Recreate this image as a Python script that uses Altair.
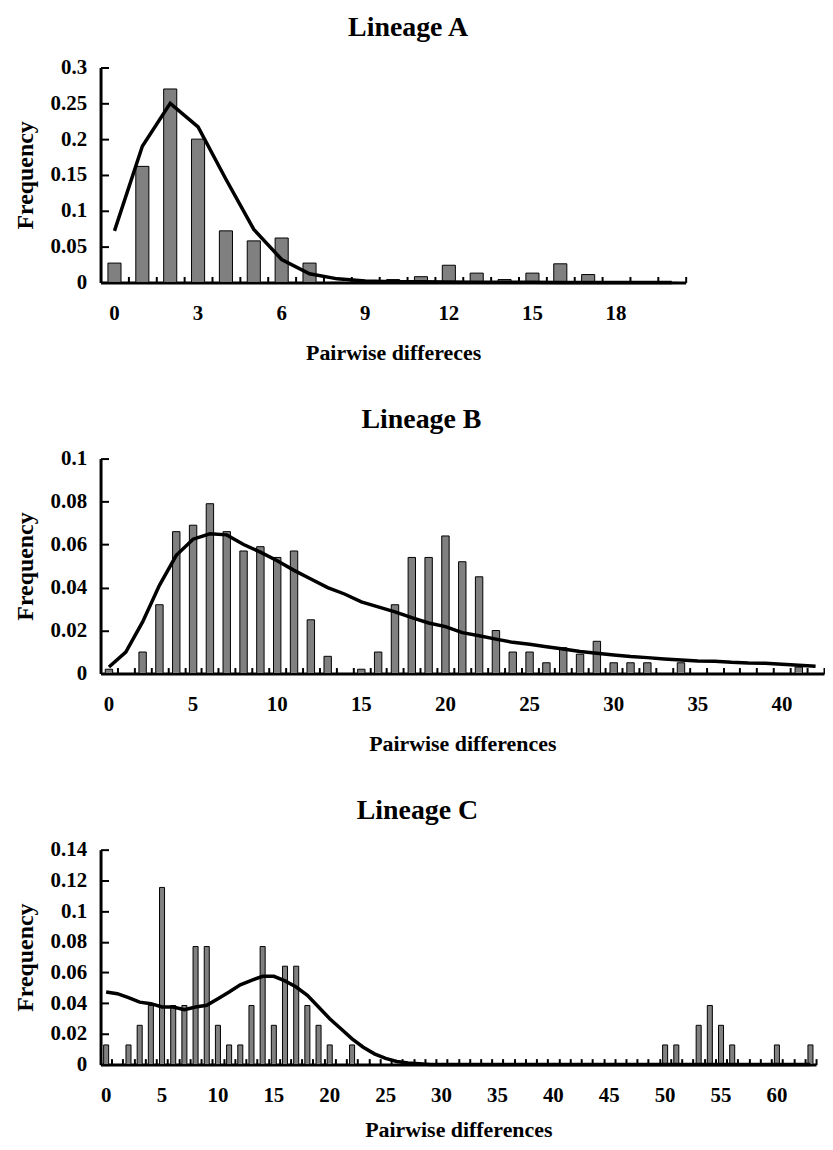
import altair as alt
import pandas as pd

# ---------------- data ----------------
A_x = list(range(21))
A_bar = [0.027, 0.162, 0.270, 0.200, 0.072, 0.058, 0.062, 0.027, 0, 0,
         0.004, 0.008, 0.024, 0.013, 0.004, 0.013, 0.026, 0.011, 0, 0, 0]
A_line = [0.072, 0.190, 0.250, 0.217, 0.144, 0.074, 0.032, 0.012, 0.005, 0.002,
          0.001, 0.001, 0.0005, 0.0003, 0.0002, 0.0001, 0, 0, 0, 0, 0]
A_yticks = [0, 0.05, 0.1, 0.15, 0.2, 0.25, 0.3]
A_xlabels = [0, 3, 6, 9, 12, 15, 18]

B_x = list(range(43))
B_bar = [0.002, 0, 0.010, 0.032, 0.066, 0.069, 0.079, 0.066, 0.057, 0.059,
         0.054, 0.057, 0.025, 0.008, 0, 0.002, 0.010, 0.032, 0.054, 0.054,
         0.064, 0.052, 0.045, 0.020, 0.010, 0.010, 0.005, 0.012, 0.009, 0.015,
         0.005, 0.005, 0.005, 0, 0.005, 0, 0, 0, 0, 0,
         0, 0.003, 0]
B_line = [0.003, 0.010, 0.024, 0.041, 0.055, 0.0625, 0.065, 0.0645, 0.060, 0.0565,
          0.0525, 0.048, 0.044, 0.040, 0.037, 0.0333, 0.031, 0.0287, 0.026, 0.0235,
          0.0218, 0.0190, 0.0176, 0.016, 0.0145, 0.0136, 0.0125, 0.0114, 0.0102, 0.0094,
          0.0086, 0.0079, 0.0074, 0.0068, 0.0063, 0.0058, 0.0057, 0.0052, 0.0049, 0.0048,
          0.0043, 0.0038, 0.0034]
B_yticks = [0, 0.02, 0.04, 0.06, 0.08, 0.1]
B_xlabels = [0, 5, 10, 15, 20, 25, 30, 35, 40]

C_x = list(range(64))
C_bar = [0.0128, 0, 0.0128, 0.0256, 0.0385, 0.1154, 0.0385, 0.0385, 0.0769, 0.0769,
         0.0256, 0.0128, 0.0128, 0.0385, 0.0769, 0.0256, 0.0641, 0.0641, 0.0385, 0.0256,
         0.0128, 0, 0.0128, 0, 0, 0, 0, 0, 0, 0,
         0, 0, 0, 0, 0, 0, 0, 0, 0, 0,
         0, 0, 0, 0, 0, 0, 0, 0, 0, 0,
         0.0128, 0.0128, 0, 0.0256, 0.0385, 0.0256, 0.0128, 0, 0, 0,
         0.0128, 0, 0, 0.0128]
C_line = [0.0473, 0.0462, 0.0436, 0.0407, 0.0397, 0.0375, 0.0375, 0.0357, 0.0375, 0.0386,
          0.0429, 0.0473, 0.052, 0.0549, 0.0575, 0.0575, 0.0545, 0.0505, 0.0451, 0.0375,
          0.0299, 0.0233, 0.0168, 0.0113, 0.007, 0.004, 0.002, 0.001, 0.0005, 0,
          0, 0, 0, 0, 0, 0, 0, 0, 0, 0,
          0, 0, 0, 0, 0, 0, 0, 0, 0, 0,
          0, 0, 0, 0, 0, 0, 0, 0, 0, 0,
          0, 0, 0, 0]
C_yticks = [0, 0.02, 0.04, 0.06, 0.08, 0.1, 0.12, 0.14]
C_xlabels = [0, 5, 10, 15, 20, 25, 30, 35, 40, 45, 50, 55, 60]

FONT = "Liberation Serif"
H = 216


def panel(title, xs, bars, line, yticks, xlabels, width, xtitle, band, dx, toff, xtpad):
    df = pd.DataFrame({"d": xs, "f": bars, "g": line})
    xscale = alt.Scale(domain=xs, paddingInner=0, paddingOuter=0)
    yscale = alt.Scale(domain=[yticks[0], yticks[-1]], nice=False)
    lab = dict(labelFont=FONT, labelFontSize=21, labelFontWeight="bold", labelColor="black",
               titleFont=FONT, titleFontWeight="bold", titleColor="black")
    b = alt.Chart(df).mark_bar(width={"band": band}, fill="#808080", stroke="black",
                               strokeWidth=1).encode(
        x=alt.X("d:O", scale=xscale,
                axis=alt.Axis(orient="bottom", values=xlabels, labelAngle=0, ticks=False,
                              tickSize=0, domain=False, labelPadding=20, title=xtitle,
                              titlePadding=xtpad, titleFontSize=22, **lab)),
        y=alt.Y("f:Q", scale=yscale,
                axis=alt.Axis(orient="left", values=yticks, format="~g", ticks=False,
                              tickSize=0, domain=False, grid=False, labelPadding=14,
                              title="Frequency", titlePadding=13, titleFontSize=24, **lab)),
    )
    l = alt.Chart(df).mark_line(color="black", strokeWidth=3.5).encode(
        x=alt.X("d:O", scale=xscale,
                axis=alt.Axis(orient="top", offset=-H, labels=False, ticks=True, tickSize=6,
                              tickWidth=2, tickColor="black", tickBand="extent",
                              domain=True, domainWidth=3, domainColor="black", title=None,
                              minExtent=0)),
        y=alt.Y("g:Q", scale=yscale,
                axis=alt.Axis(orient="right", offset=-width, labels=False, values=yticks,
                              ticks=True, tickSize=8, tickWidth=2, tickColor="black",
                              domain=True, domainWidth=3, domainColor="black", grid=False,
                              title=None, minExtent=0)),
    )
    return alt.layer(b, l).resolve_axis(x="independent", y="independent").properties(
        width=width, height=H,
        title=alt.TitleParams(text=title, font=FONT, fontSize=28, fontWeight="bold",
                              color="black", anchor="middle", frame="group", dx=dx,
                              offset=toff, baseline="alphabetic"),
    )


pa = panel("Lineage A", A_x, A_bar, A_line, A_yticks, A_xlabels, 588,
           "Pairwise differeces", 0.47, 15, -7, 19)
pb = panel("Lineage B", B_x, B_bar, B_line, B_yticks, B_xlabels, 727,
           "Pairwise differences", 0.44, -41, -8, 19)
pc = panel("Lineage C", C_x, C_bar, C_line, C_yticks, C_xlabels, 719,
           "Pairwise differences", 0.45, -41, -8, 14)

chart = alt.vconcat(pa, pb, pc, spacing=43).properties(
    padding={"left": 5, "top": 3, "right": 0, "bottom": 0}
).configure(background="white").configure_view(stroke=None)

chart.save("out.html", embed_options={"renderer": "svg", "actions": False})
